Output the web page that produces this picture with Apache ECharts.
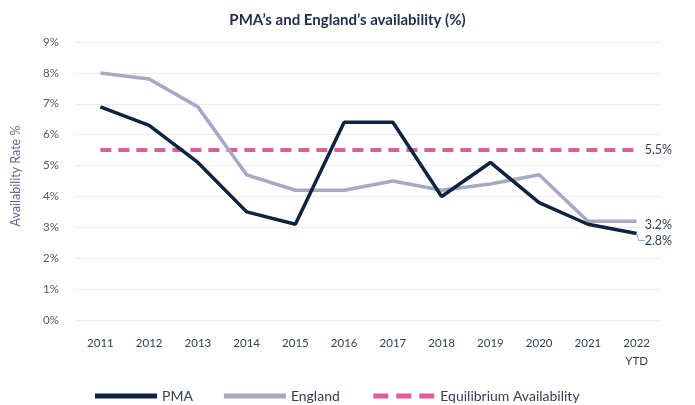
<!DOCTYPE html>
<html lang="en" style="height: 100%">
<head>
  <meta charset="utf-8" />
  <title>PMA availability</title>
</head>
<body style="height: 100%; margin: 0">
  <div id="container" style="width: 695px; height: 405px"></div>

  <script type="text/javascript" src="https://fastly.jsdelivr.net/npm/echarts@6.0.0/dist/echarts.min.js"></script>
  <script type="text/javascript">
    var years = ['2011', '2012', '2013', '2014', '2015', '2016', '2017', '2018', '2019', '2020', '2021', '2022\nYTD'];
    var pma = [6.9, 6.3, 5.1, 3.5, 3.1, 6.4, 6.4, 4.0, 5.1, 3.8, 3.1, 2.8];
    var england = [8.0, 7.8, 6.9, 4.7, 4.2, 4.2, 4.5, 4.2, 4.4, 4.7, 3.2, 3.2];
    var equilibrium = [5.5, 5.5, 5.5, 5.5, 5.5, 5.5, 5.5, 5.5, 5.5, 5.5, 5.5, 5.5];

    var font = 'Lato';
    var dom = document.getElementById('container');
    var myChart = echarts.init(dom, null, { renderer: 'canvas' });

    // label only the last point of a series
    function lastLabel(arr) {
      return arr.map(function (v, i) {
        if (i !== arr.length - 1) return v;
        return {
          value: v,
          label: {
            show: true,
            position: 'right',
            distance: 8,
            formatter: function (p) { return p.value.toFixed(1) + '%'; },
            color: '#333f50',
            fontFamily: font,
            fontSize: 12.5
          }
        };
      });
    }

    var option = {
      animation: false,
      backgroundColor: '#ffffff',
      title: {
        text: 'PMA\u2019s and England\u2019s availability (%)',
        left: 'center',
        top: 8,
        textStyle: { fontFamily: font, fontSize: 15, fontWeight: 'bold', color: '#1f2d4d' }
      },
      legend: {
        top: 384,
        left: 90,
        itemWidth: 62,
        itemHeight: 5,
        itemGap: 31,
        textStyle: { fontFamily: font, fontSize: 14, color: '#333f50' },
        data: [
          { name: 'PMA', icon: 'rect' },
          { name: 'England', icon: 'rect' },
          { name: 'Equilibrium Availability', lineStyle: { width: 5, type: [15, 8] } }
        ]
      },
      grid: { left: 76, right: 34, top: 42, bottom: 85 },
      xAxis: {
        type: 'category',
        data: years,
        boundaryGap: true,
        axisLine: { show: false },
        axisTick: { show: false },
        axisLabel: { fontFamily: font, fontSize: 11.5, color: '#333f50', margin: 14, lineHeight: 18 }
      },
      yAxis: {
        type: 'value',
        min: 0,
        max: 9,
        interval: 1,
        name: 'Availability Rate %',
        nameLocation: 'middle',
        nameGap: 54,
        nameTextStyle: { fontFamily: font, fontSize: 12.5, color: '#5b6a86', padding: [0, 0, 0, 10] },
        axisLabel: { formatter: '{value}%', fontFamily: font, fontSize: 11.5, color: '#595959', margin: 17 },
        splitLine: { lineStyle: { color: '#ececec', width: 1 } }
      },
      series: [
        {
          name: 'Equilibrium Availability',
          type: 'line',
          data: lastLabel(equilibrium),
          showSymbol: true,
          symbol: 'circle',
          symbolSize: 0.1,
          color: '#e05c9d',
          lineStyle: { width: 4, type: [11, 7], color: '#e05c9d' }
        },
        {
          name: 'England',
          type: 'line',
          data: lastLabel(england),
          showSymbol: true,
          symbol: 'circle',
          symbolSize: 0.1,
          color: '#a7a9c4',
          lineStyle: { width: 3.5, color: '#a7a9c4' },
          labelLayout: { dy: 4 }
        },
        {
          name: 'PMA',
          type: 'line',
          data: lastLabel(pma),
          showSymbol: true,
          symbol: 'circle',
          symbolSize: 0.1,
          color: '#0e2340',
          lineStyle: { width: 3.5, color: '#0e2340' },
          labelLayout: { dy: 7 },
          labelLine: { show: true, length2: 6, lineStyle: { color: '#7fb2e5', width: 1 } }
        }
      ]
    };

    myChart.setOption(option);
    window.addEventListener('resize', myChart.resize);
  </script>
</body>
</html>
